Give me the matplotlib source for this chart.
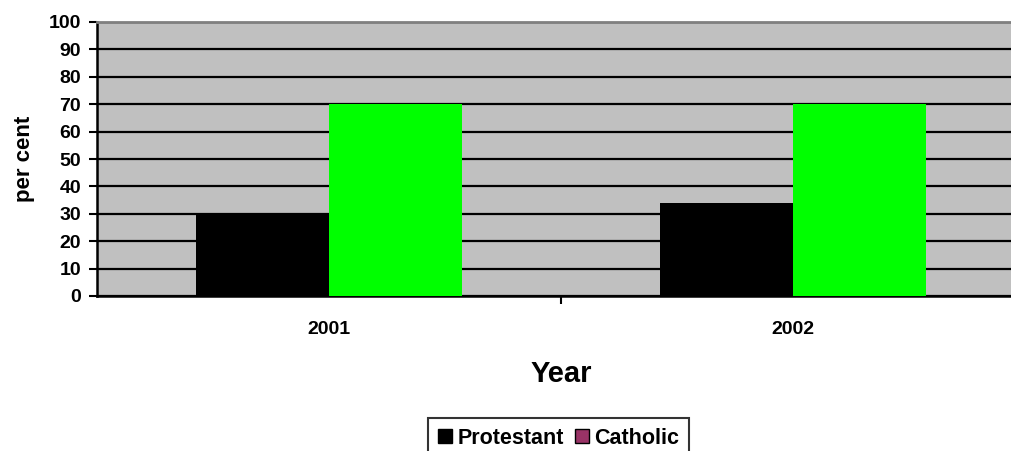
import matplotlib.pyplot as plt
import numpy as np
from matplotlib.patches import Patch

# data
years = ["2001", "2002"]
protestant = [30, 34]
catholic = [70, 70]

plt.rcParams['font.family'] = ['Liberation Sans', 'DejaVu Sans']

fig = plt.figure(figsize=(10.11, 4.51), dpi=100)
# plot area runs a little past the right edge of the picture, as in the original
ax = fig.add_axes([97 / 1011, 1 - 296 / 451, 928 / 1011, 274 / 451])
ax.set_facecolor('#C0C0C0')

x = np.arange(len(years))
w = 0.287
ax.bar(x - w / 2, protestant, w, color='black', zorder=3)
ax.bar(x + w / 2, catholic, w, color='#00FF00', zorder=3)

ax.set_xlim(-0.5, len(years) - 0.5)
ax.set_ylim(0, 100)
ax.set_yticks(range(0, 101, 10))
ax.yaxis.grid(True, color='black', linewidth=1.6, zorder=1)
ax.set_axisbelow(True)

# category labels centred under each group, ticks on the boundaries
ax.set_xticks(x)
ax.set_xticklabels(years, fontsize=14, fontweight='bold')
ax.tick_params(axis='x', length=0, pad=18)
ax.set_xticks([0.5], minor=True)
ax.tick_params(axis='x', which='minor', length=6, width=1.5, direction='out')
ax.tick_params(axis='y', length=5.5, width=1.5, direction='out', labelsize=14, pad=6)
for t in ax.get_yticklabels():
    t.set_fontweight('bold')

ax.spines['top'].set_color('#808080')
ax.spines['top'].set_linewidth(2)
ax.spines['left'].set_linewidth(1.8)
ax.spines['bottom'].set_linewidth(1.8)
ax.spines['right'].set_visible(False)

ax.set_ylabel('per cent', fontsize=16, fontweight='bold', labelpad=10)
ax.set_xlabel('Year', fontsize=21, fontweight='bold', labelpad=16)

handles = [Patch(facecolor='black', edgecolor='black', label='Protestant'),
           Patch(facecolor='#993366', edgecolor='black', label='Catholic')]
leg = fig.legend(handles=handles, loc='upper left', bbox_to_anchor=(428 / 1011, 1 - 418 / 451),
                 ncol=2, frameon=True, fancybox=False, fontsize=15.5,
                 handlelength=0.67, handleheight=0.67, handletextpad=0.25, columnspacing=0.5,
                 borderpad=0.45, borderaxespad=0)
leg.get_frame().set_edgecolor('black')
leg.get_frame().set_linewidth(1.5)
for t in leg.get_texts():
    t.set_fontweight('bold')

fig.savefig('out.png', dpi=100)
